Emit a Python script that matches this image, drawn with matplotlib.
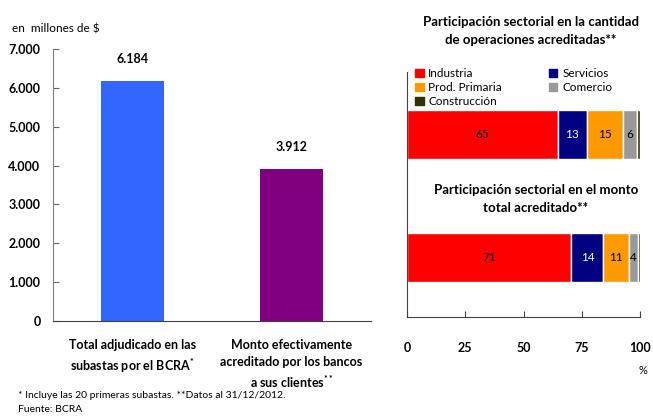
import numpy as np
import matplotlib
matplotlib.use("Agg")
import matplotlib.pyplot as plt

plt.rcParams['font.family'] = ['Lato', 'DejaVu Sans']
plt.rcParams['mathtext.fontset'] = 'custom'
plt.rcParams['mathtext.rm'] = 'Lato:bold'
plt.rcParams['mathtext.it'] = 'Lato:bold'
plt.rcParams['mathtext.bf'] = 'Lato:bold'

# Left chart data (millones de $)
montos_labels = ["Total adjudicado en las\nsubastas por el BCRA$^{*}$",
                 "Monto efectivamente\nacreditado por los bancos\na sus clientes$^{**}$"]
montos = [6184, 3912]
montos_colors = ['#3366FF', '#800080']
yticks = [0, 1000, 2000, 3000, 4000, 5000, 6000, 7000]

# Right chart data (%)
sectores = ['Industria', 'Servicios', 'Prod. Primaria', 'Comercio', 'Construcción']
sector_colors = ['#FF0000', '#000080', '#FF9900', '#999999', '#333300']
cantidad = [64.6, 12.8, 15.4, 5.9, 1.3]
monto_total = [70.6, 13.7, 10.8, 3.9, 1.0]
text_colors = ['black', 'white', 'black', 'black', 'black']
xticks = [0, 25, 50, 75, 100]

def fmt(v):
    return f"{v:,.0f}".replace(",", ".")

fig = plt.figure(figsize=(6.53, 4.16), dpi=100)

# ---- left chart
ax = fig.add_axes([53/653, 1-321/416, 318/653, 272/416])
x = np.arange(len(montos))
ax.bar(x, montos, width=0.4, color=montos_colors)
for xi, v in zip(x, montos):
    ax.text(xi, v + 400, fmt(v), ha='center', va='bottom', fontsize=9, fontweight='bold')
ax.set_xlim(-0.5, 1.5)
ax.set_ylim(0, 7000)
ax.set_yticks(yticks)
ax.set_yticklabels([fmt(t) for t in yticks], fontsize=9, fontweight='bold')
ax.set_xticks(x)
ax.set_xticklabels(montos_labels, fontsize=9, fontweight='bold', linespacing=1.45, va='top')
ax.tick_params(axis='y', direction='in', length=4, pad=9, color='#666666')
ax.tick_params(axis='x', length=0, pad=13)
for s in ['top', 'right']:
    ax.spines[s].set_visible(False)
ax.spines['left'].set_color('#808080')
ax.spines['bottom'].set_color('#404040')
fig.text(12/653, 1-29/416, "en  millones de $", fontsize=8.5, va='center', ha='left')

# ---- right chart
ax2 = fig.add_axes([407/653, 1-317/416, 233/653, 245/416])
rows = [cantidad, monto_total]
ypos = [1, 0]
for yv, vals in zip(ypos, rows):
    left = 0
    for v, c, tc in zip(vals, sector_colors, text_colors):
        ax2.barh(yv, v, left=left, height=0.4, color=c, edgecolor='white', linewidth=1)
        if v >= 2:
            ax2.text(left + v/2, yv, f"{round(v):d}", ha='center', va='center',
                     fontsize=8.5, color=tc)
        left += v
ax2.set_xlim(0, 100)
ax2.set_ylim(-0.484, 1.508)
ax2.set_yticks([])
ax2.set_xticks(xticks)
ax2.set_xticklabels([str(t) for t in xticks], fontsize=9, fontweight='bold')
ax2.tick_params(axis='x', direction='in', length=4, pad=18, color='#404040')
for s in ['top', 'right']:
    ax2.spines[s].set_visible(False)
ax2.spines['left'].set_color('#404040')
ax2.spines['bottom'].set_color('#404040')

handles = [plt.Rectangle((0, 0), 1, 1, color=c) for c in sector_colors]
order = [0, 2, 4, 1, 3]
leg = ax2.legend([handles[i] for i in order], [sectores[i] for i in order], ncol=2,
                 loc='upper left', bbox_to_anchor=(0.0, 1.05), frameon=False,
                 fontsize=8.5, handlelength=0.7, handleheight=0.7, handletextpad=0.4,
                 columnspacing=4.0, labelspacing=0.25, borderaxespad=0.3)

fig.text(531/653, 1-31/416, "Participación sectorial en la cantidad\nde operaciones acreditadas**",
         ha='center', va='center', fontsize=9.5, fontweight='bold', linespacing=1.5)
fig.text(536/653, 1-199/416, "Participación sectorial en el monto\ntotal acreditado**",
         ha='center', va='center', fontsize=9.5, fontweight='bold', linespacing=1.5)
fig.text(643/653, 1-370/416, "%", ha='center', va='center', fontsize=8)

fig.text(18/653, 1-395/416, "* Incluye las 20 primeras subastas. **Datos al 31/12/2012.",
         fontsize=7.5, va='center', ha='left')
fig.text(18/653, 1-410/416, "Fuente: BCRA", fontsize=7.5, va='center', ha='left')

fig.savefig('out.png', dpi=100)
